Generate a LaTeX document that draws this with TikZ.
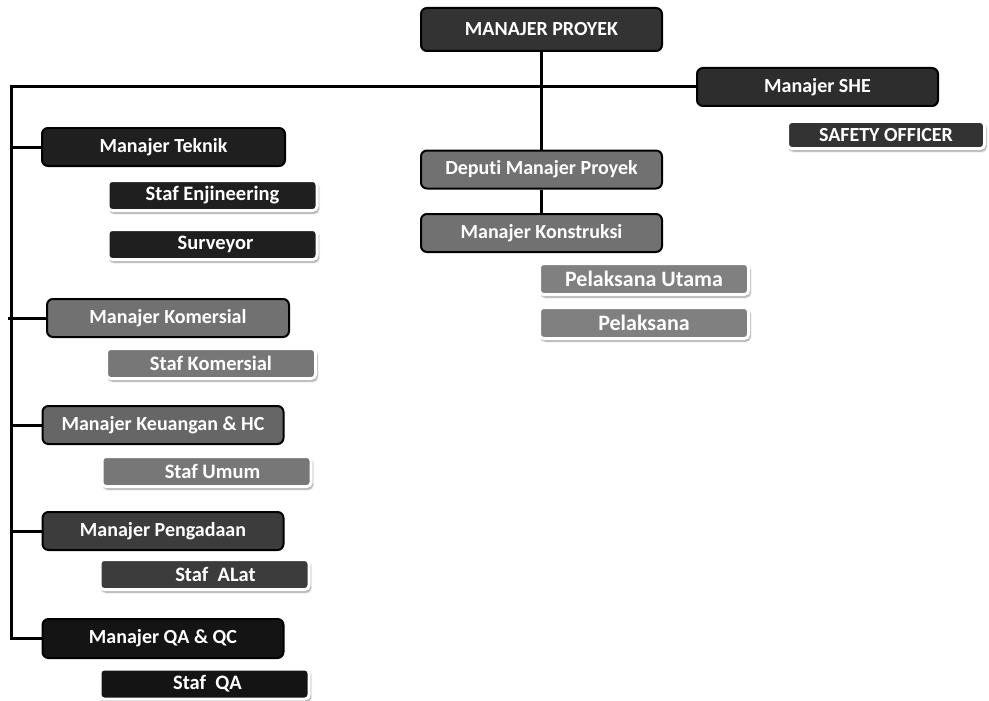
\documentclass[tikz,border=0pt]{standalone}
\usepackage{fontspec}
\setmainfont{Carlito}[Ligatures=NoCommon]
\usetikzlibrary{shadows.blur}
\definecolor{cA}{HTML}{333333}
\definecolor{cB}{HTML}{2D2D2D}
\definecolor{cC}{HTML}{1F1F1F}
\definecolor{cD}{HTML}{717171}
\definecolor{cE}{HTML}{666666}
\definecolor{cF}{HTML}{3C3C3C}
\definecolor{cG}{HTML}{141414}
\definecolor{cH}{HTML}{777777}
\definecolor{cI}{HTML}{808080}
\begin{document}
\begin{tikzpicture}[x=1pt,y=-1pt,
  mgr/.style={rounded corners=6pt, draw=black, line width=2pt, text=white,
    font=\fontsize{20}{24}\selectfont\bfseries, minimum width=241pt, minimum height=38pt, inner sep=0pt},
  staff/.style={rounded corners=4pt, draw=white, line width=3pt, text=white,
    font=\fontsize{20.5}{24}\selectfont\bfseries, minimum width=209pt, minimum height=30pt, inner sep=0pt,
    blur shadow={shadow xshift=1.5pt, shadow yshift=-2.5pt, shadow opacity=45, shadow blur steps=6, shadow blur extra rounding=2pt}},
  link/.style={line width=3pt, draw=black}]
\useasboundingbox (0,0) rectangle (989,701);

% top management column
\node[mgr, fill=cA, minimum height=43pt] (mp) at (541.5,29.5) {MANAJER PROYEK};
\node[mgr, fill=cD] (dep) at (541.5,169.5) {Deputi Manajer Proyek};
\node[mgr, fill=cD] (kon) at (541.5,233) {Manajer Konstruksi};
\node[staff, fill=cI, minimum height=31pt, font=\fontsize{22}{26}\selectfont\bfseries] (pu) at (644,279) {Pelaksana Utama};
\node[staff, fill=cI, minimum height=31pt, font=\fontsize{22}{26}\selectfont\bfseries] (pel) at (644,323) {Pelaksana};

% SHE
\node[mgr, fill=cB] (she) at (817.5,87) {Manajer SHE};
\node[staff, fill=cA, minimum width=197pt, minimum height=27pt, font=\fontsize{20}{24}\selectfont\bfseries] (saf) at (886,135) {SAFETY OFFICER};

% left column
\node[mgr, fill=cC, minimum width=243pt] (tek) at (163.5,147) {Manajer Teknik};
\node[staff, fill=cC] (enj) at (212.5,195.5) {Staf Enjineering};
\node[staff, fill=cC] (sur) at (212.5,244.5) {\hspace{6pt}Surveyor};

\node[mgr, fill=cD, minimum width=242pt] (kom) at (168,318) {Manajer Komersial};
\node[staff, fill=cH] (skom) at (211,363.5) {Staf Komersial};

\node[mgr, fill=cE] (keu) at (163,425) {Manajer Keuangan \& HC};
\node[staff, fill=cH] (sum) at (206.5,471.5) {\hspace{12pt}Staf Umum};

\node[mgr, fill=cF] (pen) at (163,531) {Manajer Pengadaan};
\node[staff, fill=cF] (alat) at (204.5,574.5) {\hspace{22pt}Staf\ \ ALat};

\node[mgr, fill=cG, minimum height=39pt] (qa) at (163,638.5) {Manajer QA \& QC};
\node[staff, fill=cG] (sqa) at (204.5,684) {\hspace{6pt}Staf\ \ QA};

% connectors
\coordinate (top) at (11,87);
\draw[link] (mp.south) -- (dep.north);
\draw[link] (dep.south) -- (kon.north);
\draw[link] (she.west) -- (top) -- (qa.west -| top) -- (qa.west);
\draw[link] (tek.west) -- (tek.west -| top);
\draw[link] (kom.west) -- ([xshift=-3pt]kom.west -| top);
\draw[link] (keu.west) -- (keu.west -| top);
\draw[link] (pen.west) -- (pen.west -| top);
\end{tikzpicture}
\end{document}
